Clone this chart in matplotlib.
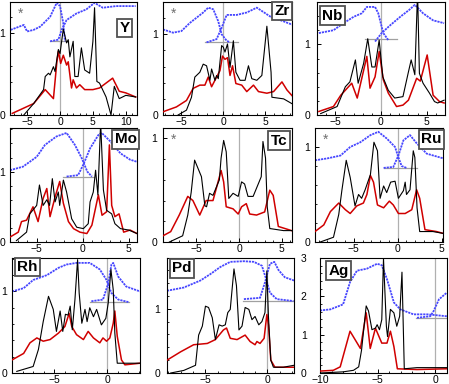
import matplotlib
matplotlib.use('Agg')
import matplotlib.pyplot as plt
from matplotlib.ticker import MultipleLocator

plt.rcParams['font.family'] = ['Liberation Sans', 'DejaVu Sans']

# ---- data (x = energy, y = DOS, arbitrary units) ----
# Y
Y_black = [(-5.5, 0.0), (-4, 0.14), (-2.5, 0.31), (-2.25, 0.47), (-1.75, 0.51), (-1.5, 0.49), (-1, 0.59),
           (-0.75, 0.53), (-0.5, 0.67), (-0.25, 0.8), (0, 0.75), (0.5, 1.05), (1, 0.88), (1.25, 0.92),
           (1.5, 0.71), (2, 0.9), (2.25, 0.47), (2.75, 0.47), (3.25, 0.82), (3.75, 0.55), (4.5, 0.51),
           (5.0, 0.9), (5.25, 1.31), (5.6, 0.41), (6, 0.39), (7, 0.22), (7.75, 0.0), (8.25, 0.35),
           (9, 0.2), (10, 0.24), (11.5, 0.22)]
Y_red = [(-7.25, 0.02), (-4, 0.14), (-2.25, 0.31), (-1, 0.2), (-0.5, 0.63), (-0.25, 0.78), (0.1, 0.63),
         (0.5, 0.73), (1, 0.61), (1.25, 0.65), (1.75, 0.33), (2, 0.43), (2.5, 0.33), (3, 0.37),
         (3.75, 0.31), (5, 0.31), (6, 0.33), (8, 0.45), (9, 0.29), (10, 0.27), (11.5, 0.22)]
Y_blue_occ = [(-7.5, 1.04), (-5.5, 1.10), (-5, 1.02), (-4, 1.04), (-3, 1.08), (-1.5, 1.2), (-0.5, 1.37),
              (0, 1.33), (0.5, 1.12), (0.75, 0.9)]
Y_blue_unocc = [(-1.5, 0.9), (-0.25, 0.92), (0.25, 1.04), (1, 1.16), (2.5, 1.24), (4, 1.29), (5.25, 1.37),
                (6.5, 1.31), (8.5, 1.33), (11.5, 1.33)]
Y_base = (0.9, -1.5, 1.25)

# Zr
Zr_black = [(-5.4, 0.0), (-4.4, 0.06), (-3.8, 0.22), (-3.4, 0.47), (-2.8, 0.53), (-2.4, 0.63), (-2.0, 0.61),
            (-1.6, 0.43), (-1.4, 0.57), (-1.0, 0.43), (-0.8, 0.49), (-0.6, 0.45), (-0.2, 0.86), (0.0, 0.84),
            (0.2, 0.78), (0.5, 0.88), (0.8, 0.59), (1.2, 0.92), (1.5, 0.53), (2.0, 0.43), (2.6, 0.43),
            (3.0, 0.61), (3.4, 0.45), (4.0, 0.43), (4.6, 0.49), (5.2, 1.1), (5.7, 0.53), (5.8, 0.22),
            (7.2, 0.2), (8.2, 0.14)]
Zr_red = [(-7.2, 0.04), (-5.6, 0.1), (-4.4, 0.18), (-3.6, 0.33), (-2.8, 0.37), (-2.2, 0.37), (-1.8, 0.47),
          (-1.4, 0.35), (-0.8, 0.47), (-0.4, 0.55), (-0.1, 0.73), (0.2, 0.69), (0.5, 0.71), (0.8, 0.49),
          (1.1, 0.61), (1.5, 0.39), (2.2, 0.37), (2.8, 0.29), (3.6, 0.37), (4.2, 0.29), (5.2, 0.27),
          (6.0, 0.29), (7.0, 0.41), (7.6, 0.31), (8.2, 0.24)]
Zr_blue_occ = [(-7.2, 1.06), (-6, 1.02), (-5, 1.04), (-4, 1.14), (-2.4, 1.27), (-1.8, 1.33), (-1.2, 1.31),
               (-0.6, 1.16), (-0.2, 1.0), (0.4, 0.92), (0.8, 0.9)]
Zr_blue_unocc = [(-2.0, 0.9), (-0.8, 0.94), (-0.2, 1.08), (0.4, 1.24), (1.6, 1.24), (2.8, 1.27), (4.0, 1.33),
                 (5.6, 1.22), (7.2, 1.16), (8.2, 1.12)]
Zr_base = (0.9, -2.2, 1.8)

# Nb
Nb_black = [(-6.6, 0.02), (-4.8, 0.12), (-3.9, 0.4), (-3.4, 0.47), (-2.8, 0.78), (-2.5, 0.45), (-1.9, 0.73),
            (-1.45, 1.08), (-1.0, 0.68), (-0.65, 0.68), (-0.2, 1.06), (0.2, 0.54), (0.8, 0.35), (1.5, 0.24),
            (2.4, 0.26), (3.0, 0.61), (3.3, 0.78), (3.7, 0.57), (4.0, 1.75), (4.2, 0.59), (4.6, 0.45),
            (5.3, 0.31), (5.85, 0.19), (6.2, 0.17), (6.9, 0.21)]
Nb_red = [(-6.8, 0.05), (-5.2, 0.12), (-4.4, 0.28), (-3.2, 0.45), (-2.6, 0.24), (-2.1, 0.52), (-1.55, 0.83),
          (-1.2, 0.38), (-0.65, 0.54), (-0.2, 0.9), (0.25, 0.5), (0.8, 0.31), (1.7, 0.12), (2.4, 0.14),
          (3.0, 0.21), (3.9, 0.52), (4.3, 0.48), (5.05, 0.85), (5.7, 0.28), (6.4, 0.19), (6.9, 0.17)]
Nb_blue_occ = [(-6.8, 1.16), (-5.2, 1.2), (-4.1, 1.3), (-3.0, 1.39), (-2.1, 1.44), (-1.55, 1.53),
               (-0.65, 1.53), (-0.3, 1.44), (0.25, 1.16), (0.8, 1.06)]
Nb_blue_unocc = [(-0.65, 1.04), (0.07, 1.16), (1.0, 1.27), (2.1, 1.39), (3.1, 1.49), (3.7, 1.56),
                 (4.6, 1.44), (5.7, 1.34), (6.9, 1.3)]
Nb_base = (1.07, -1.7, 1.7)

# Mo
Mo_black = [(-7.2, 0.02), (-6.1, 0.14), (-5.75, 0.4), (-5.0, 0.52), (-4.7, 0.81), (-4.3, 0.52), (-3.9, 0.6),
            (-3.6, 0.52), (-3.3, 0.9), (-3.0, 0.57), (-2.65, 0.71), (-2.5, 0.52), (-2.1, 0.88),
            (-1.75, 0.71), (-1.2, 0.33), (-0.65, 0.21), (0.07, 0.19), (0.6, 0.26), (0.8, 0.57),
            (1.15, 0.71), (1.4, 1.02), (1.65, 0.67), (1.95, 1.7), (2.25, 0.74), (2.6, 0.45), (3.15, 0.4),
            (3.5, 0.26), (4.1, 0.19), (5.0, 0.17), (5.9, 0.12)]
Mo_red = [(-7.9, 0.07), (-7.0, 0.14), (-6.65, 0.29), (-6.1, 0.31), (-5.4, 0.5), (-4.85, 0.29), (-4.3, 0.62),
          (-3.9, 0.76), (-3.55, 0.36), (-3.0, 0.64), (-2.5, 0.86), (-2.1, 0.55), (-1.55, 0.29), (-1.0, 0.19),
          (-0.3, 0.14), (0.45, 0.12), (1.0, 0.24), (1.7, 0.67), (2.1, 0.38), (2.6, 0.43), (2.9, 1.38),
          (3.15, 0.52), (3.5, 0.36), (3.95, 0.4), (4.45, 0.14), (5.15, 0.17), (5.9, 0.12)]
Mo_blue_occ = [(-7.9, 1.02), (-6.5, 1.07), (-5.0, 1.21), (-4.1, 1.38), (-2.85, 1.5), (-1.75, 1.55),
               (-0.85, 1.38), (-0.1, 1.19), (0.5, 1.0), (1.0, 0.93)]
Mo_blue_unocc = [(-1.75, 0.93), (-0.5, 0.95), (0.07, 1.1), (0.8, 1.33), (1.7, 1.52), (2.07, 1.55),
                 (3.0, 1.43), (4.1, 1.26), (5.15, 1.17), (5.9, 1.14)]
Mo_base = (0.93, -2.1, 1.2)

# Tc
Tc_black = [(-8.15, 0.0), (-6.6, 0.06), (-6.0, 0.26), (-5.6, 0.48), (-5.2, 0.79), (-4.8, 0.71), (-4.4, 0.63),
            (-4.0, 0.35), (-3.8, 0.34), (-3.45, 0.47), (-3.05, 0.45), (-2.65, 0.53), (-2.3, 0.6),
            (-2.1, 0.81), (-1.8, 0.98), (-1.5, 0.87), (-1.2, 0.42), (-0.7, 0.47), (-0.1, 0.44), (0.3, 0.58),
            (0.65, 0.56), (1.05, 0.44), (1.65, 0.44), (2.05, 0.52), (2.6, 0.63), (2.8, 0.97), (3.1, 0.81),
            (3.3, 0.34), (3.6, 0.13), (5.2, 0.11), (6.15, 0.11)]
Tc_red = [(-8.9, 0.06), (-8.0, 0.1), (-7.0, 0.26), (-6.0, 0.44), (-5.4, 0.4), (-4.6, 0.26), (-3.85, 0.4),
          (-3.05, 0.4), (-2.65, 0.52), (-2.1, 0.69), (-1.8, 0.58), (-1.5, 0.34), (-0.7, 0.32), (-0.1, 0.27),
          (0.3, 0.34), (0.85, 0.37), (1.25, 0.27), (2.05, 0.26), (3.0, 0.29), (3.6, 0.5), (4.0, 0.45),
          (4.6, 0.15), (6.15, 0.11)]

# Ru
Ru_black = [(-8.8, 0.0), (-7.3, 0.05), (-6.7, 0.29), (-6.35, 0.54), (-5.85, 0.86), (-5.4, 0.68),
            (-4.85, 0.38), (-4.45, 0.5), (-4.1, 0.46), (-3.7, 0.55), (-3.1, 0.71), (-2.7, 1.05), (-2.3, 0.96),
            (-2.0, 0.46), (-1.6, 0.59), (-1.25, 0.52), (-0.8, 0.63), (-0.3, 0.64), (0.08, 0.46), (0.65, 0.54),
            (0.85, 0.63), (1.0, 0.5), (1.4, 0.55), (1.77, 0.96), (1.95, 0.89), (2.2, 0.36), (2.5, 0.11),
            (4.0, 0.11), (5.2, 0.09)]
Ru_red = [(-9.4, 0.11), (-8.4, 0.18), (-7.65, 0.32), (-6.7, 0.41), (-5.95, 0.34), (-5.4, 0.3), (-4.65, 0.38),
          (-3.9, 0.41), (-3.5, 0.5), (-3.1, 0.7), (-2.75, 0.63), (-2.3, 0.39), (-1.6, 0.36), (-0.95, 0.43),
          (-0.5, 0.39), (0.08, 0.3), (0.85, 0.3), (1.6, 0.34), (2.15, 0.55), (2.5, 0.46), (3.1, 0.13),
          (4.4, 0.11), (5.2, 0.09)]
Ru_blue_occ = [(-9.4, 0.86), (-8.0, 0.88), (-6.5, 0.91), (-5.4, 1.0), (-4.25, 1.05), (-3.1, 1.125),
               (-2.2, 1.16), (-1.25, 1.09), (-0.3, 1.0), (0.08, 0.89), (0.45, 0.8), (1.0, 0.78)]
Ru_blue_unocc = [(-1.6, 0.78), (-0.5, 0.79), (0.08, 0.91), (0.65, 1.07), (1.4, 1.125), (2.15, 1.04),
                 (3.3, 0.93), (5.2, 0.88)]
Ru_base = (0.78, -1.6, 2.2)

# Rh
Rh_black = [(-8.55, 0.02), (-7.0, 0.08), (-6.5, 0.29), (-6.05, 0.63), (-5.55, 0.94), (-5.1, 0.78),
            (-4.8, 0.51), (-4.45, 0.76), (-4.2, 0.51), (-3.95, 0.72), (-3.7, 0.71), (-3.5, 0.82),
            (-3.3, 0.53), (-3.05, 0.9), (-2.8, 1.39), (-2.65, 0.98), (-2.4, 0.61), (-2.1, 0.78),
            (-1.9, 0.63), (-1.65, 0.8), (-1.3, 0.69), (-1.0, 0.78), (-0.55, 0.59), (-0.13, 0.67),
            (0.1, 0.86), (0.35, 1.27), (0.57, 1.02), (0.72, 0.49), (0.95, 0.12), (2.0, 0.12), (3.1, 0.12)]
Rh_red = [(-9.0, 0.16), (-7.9, 0.24), (-7.3, 0.37), (-6.65, 0.43), (-6.05, 0.39), (-5.4, 0.41), (-4.6, 0.49),
          (-4.0, 0.57), (-3.6, 0.73), (-3.35, 0.57), (-2.9, 0.47), (-2.25, 0.41), (-1.8, 0.51), (-1.3, 0.43),
          (-0.7, 0.37), (-0.4, 0.43), (-0.06, 0.39), (0.25, 0.43), (0.57, 0.61), (0.72, 0.76), (0.95, 0.45),
          (1.35, 0.16), (1.67, 0.1), (3.1, 0.12)]
Rh_blue_occ = [(-9.0, 1.0), (-7.9, 1.04), (-7.0, 1.14), (-5.7, 1.2), (-4.6, 1.29), (-3.85, 1.33),
               (-2.9, 1.35), (-1.65, 1.35), (-0.7, 1.27), (-0.06, 1.14), (0.4, 0.98), (1.05, 0.9), (2.0, 0.87)]
Rh_blue_unocc = [(-1.5, 0.88), (-0.4, 0.9), (0.1, 1.1), (0.4, 1.33), (0.57, 1.35), (1.05, 1.18),
                 (1.8, 1.06), (3.1, 1.0)]
Rh_base = (0.87, -1.6, 2.1)

# Pd
Pd_black = [(-7.8, 0.0), (-6.75, 0.04), (-5.8, 0.12), (-5.55, 0.59), (-5.25, 0.73), (-5.0, 1.04),
            (-4.75, 1.02), (-4.45, 0.86), (-4.2, 0.52), (-3.9, 0.75), (-3.65, 0.73), (-3.4, 0.75),
            (-3.2, 0.94), (-3.0, 0.99), (-2.7, 1.62), (-2.5, 1.36), (-2.3, 0.67), (-2.05, 0.73),
            (-1.8, 1.02), (-1.5, 0.99), (-1.25, 0.83), (-1.0, 0.88), (-0.7, 0.75), (-0.45, 0.8),
            (-0.2, 0.94), (-0.05, 1.59), (0.08, 0.88), (0.27, 0.2), (0.48, 0.09), (1.28, 0.09), (2.14, 0.12)]
Pd_red = [(-8.1, 0.2), (-7.0, 0.33), (-5.95, 0.44), (-4.85, 0.46), (-4.2, 0.52), (-3.55, 0.67), (-3.3, 0.7),
          (-3.0, 0.54), (-2.45, 0.52), (-1.8, 0.59), (-1.4, 0.49), (-1.0, 0.44), (-0.85, 0.49), (-0.6, 0.46),
          (-0.27, 0.54), (-0.05, 0.91), (0.08, 0.75), (0.27, 0.2), (0.6, 0.09), (2.14, 0.09)]
Pd_blue_occ = [(-8.1, 1.28), (-6.75, 1.33), (-5.4, 1.44), (-4.6, 1.54), (-3.8, 1.65), (-3.0, 1.73),
               (-1.9, 1.74), (-1.1, 1.73), (-0.45, 1.67), (-0.1, 1.46), (0.2, 1.25), (0.75, 1.15), (2.1, 1.12)]
Pd_blue_unocc = [(-1.9, 1.15), (-0.6, 1.17), (-0.2, 1.41), (0.2, 1.7), (0.55, 1.73), (0.9, 1.6),
                 (1.4, 1.49), (2.14, 1.44)]
Pd_base = (1.12, -2.0, 2.2)

# Ag
Ag_black = [(-10, 0.0), (-8.0, 0.03), (-7.1, 0.07), (-6.65, 0.16), (-6.4, 0.6), (-6.0, 1.75), (-5.8, 1.62),
            (-5.5, 1.13), (-5.2, 1.17), (-5.05, 1.26), (-4.85, 1.13), (-4.65, 1.39), (-4.5, 2.98),
            (-4.25, 1.22), (-4.15, 0.95), (-3.9, 1.66), (-3.6, 1.57), (-3.35, 1.22), (-3.1, 1.48),
            (-2.9, 2.63), (-2.7, 0.11), (-1.6, 0.14), (-0.15, 0.14), (1.0, 0.14)]
Ag_red = [(-10, 0.05), (-8.85, 0.07), (-8.25, 0.16), (-7.4, 1.09), (-6.5, 0.64), (-6.0, 1.57), (-5.65, 0.64),
          (-5.2, 1.17), (-4.65, 0.78), (-4.2, 0.78), (-3.9, 1.09), (-3.6, 0.69), (-3.3, 0.11), (-1.6, 0.09),
          (1.0, 0.11)]
Ag_blue_occ = [(-10, 1.63), (-9.1, 1.66), (-8.0, 1.79), (-7.4, 2.37), (-6.8, 2.67), (-5.95, 2.72),
               (-5.05, 2.85), (-4.65, 2.81), (-4.2, 2.45), (-3.6, 1.84), (-3.05, 1.66), (-1.9, 1.53),
               (-0.7, 1.53), (1.0, 1.48)]
Ag_blue_unocc = [(-1.6, 1.44), (-0.45, 1.48), (-0.15, 1.62), (0.3, 1.92), (1.0, 2.1)]
Ag_base = (1.44, -1.7, 1.0)

# name, black, red, blue occ, blue unocc, inset baseline, xlim, ylim, star
panels = [
    ('Y', Y_black, Y_red, Y_blue_occ, Y_blue_unocc, Y_base, (-7.6, 11.7), (0, 1.38), True),
    ('Zr', Zr_black, Zr_red, Zr_blue_occ, Zr_blue_unocc, Zr_base, (-7.2, 8.2), (0, 1.40), True),
    ('Nb', Nb_black, Nb_red, Nb_blue_occ, Nb_blue_unocc, Nb_base, (-7.0, 7.0), (0, 1.6), False),
    ('Mo', Mo_black, Mo_red, Mo_blue_occ, Mo_blue_unocc, Mo_base, (-7.9, 5.9), (0, 1.62), False),
    ('Tc', Tc_black, Tc_red, None, None, None, (-8.9, 6.2), (0, 1.1), True),
    ('Ru', Ru_black, Ru_red, Ru_blue_occ, Ru_blue_unocc, Ru_base, (-9.4, 5.15), (0, 1.2), True),
    ('Rh', Rh_black, Rh_red, Rh_blue_occ, Rh_blue_unocc, Rh_base, (-9.0, 3.1), (0, 1.41), False),
    ('Pd', Pd_black, Pd_red, Pd_blue_occ, Pd_blue_unocc, Pd_base, (-8.1, 2.14), (0, 1.79), False),
    ('Ag', Ag_black, Ag_red, Ag_blue_occ, Ag_blue_unocc, Ag_base, (-10.0, 1.0), (0, 3.0), False),
]

# axes boxes in pixels (left, right, top, bottom)
boxes = [(10, 137, 2, 115), (163, 292, 2, 115), (317, 445, 2, 115),
         (10, 137, 128, 242), (163, 292, 128, 242), (315, 443, 128, 242),
         (12, 140, 258, 373), (167, 294, 258, 373), (320, 447, 258, 373)]
label_pos = [(0.90, 0.77), (0.92, 0.92), (0.12, 0.88), (0.91, 0.90), (0.90, 0.89),
             (0.91, 0.90), (0.12, 0.92), (0.12, 0.91), (0.145, 0.89)]
ylabel_pad = [3.5, 3.5, 5, 3.5, 4, 3.5, 3.5, 5, 9.5]

W, H = 449, 384
fig = plt.figure(figsize=(W / 100, H / 100), dpi=100)

for (name, blk, red, bocc, bun, base, xl, yl, star), (l, r, t, b), (lx, ly), ypad in zip(
        panels, boxes, label_pos, ylabel_pad):
    ax = fig.add_axes([l / W, 1 - b / H, (r - l) / W, (b - t) / H])
    ax.axvline(0, color='#b0b0b0', lw=0.9, zorder=1)
    if base is not None:
        ax.plot([base[1], base[2]], [base[0], base[0]], color='#a0a0a0', lw=0.9, zorder=1)
        for curve in (bocc, bun):
            xs, ys = zip(*curve)
            ax.plot(xs, ys, color='#4646ff', lw=1.3, ls=(0, (1.2, 0.5)), zorder=2)
    xs, ys = zip(*red)
    ax.plot(xs, ys, color='#d00000', lw=1.1, zorder=3)
    xs, ys = zip(*blk)
    ax.plot(xs, ys, color='black', lw=0.8, zorder=4)
    ax.set_xlim(*xl)
    ax.set_ylim(*yl)
    ax.xaxis.set_major_locator(MultipleLocator(5))
    ax.xaxis.set_minor_locator(MultipleLocator(1))
    ax.yaxis.set_major_locator(MultipleLocator(1))
    ax.yaxis.set_minor_locator(MultipleLocator(0.2))
    ax.tick_params(which='both', direction='in', top=False, right=False, labelsize=7.5)
    ax.tick_params(axis='x', pad=1.5)
    ax.tick_params(axis='y', pad=ypad)
    ax.tick_params(which='major', length=3, width=0.7)
    ax.tick_params(which='minor', length=1.6, width=0.6)
    for sp in ax.spines.values():
        sp.set_linewidth(0.8)
    ax.text(lx, ly, name, transform=ax.transAxes, ha='center', va='center', fontsize=11,
            fontweight='bold', zorder=6,
            bbox=dict(boxstyle='square,pad=0.15', fc='white', ec='#505050', lw=1.3))
    if star:
        ax.text(0.08, 0.90, '*', transform=ax.transAxes, ha='center', va='center',
                fontsize=10, color='#707070')

fig.savefig('out.png', dpi=100)
